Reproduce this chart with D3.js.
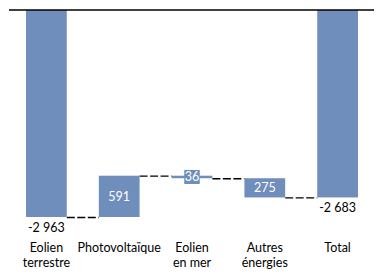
<!DOCTYPE html>
<html><head><meta charset="utf-8">
<script src="https://cdn.jsdelivr.net/npm/d3@7"></script>
<style>body{margin:0;background:#fff}svg{display:block}text{font-family:Lato,"Open Sans",sans-serif}</style>
</head><body><svg id="c" width="381" height="279"></svg>
<script>
const categories = [["Eolien","terrestre"],["Photovoltaïque"],["Eolien","en mer"],["Autres","énergies"],["Total"]];
const steps = [-2963, 591, -36, -275];
const total = -2683;

const W = 381, H = 279;
const svg = d3.select("#c");
const x = d3.scaleBand().domain(d3.range(categories.length)).range([10, 374]).paddingInner(0.44).paddingOuter(0.22);
const y = d3.scaleLinear().domain([0, -2963]).range([10, 217]);
const color = "#6f8ebb";
const fs = 12.5;
const loc = d3.formatLocale({decimal:",", thousands:" ", grouping:[3], currency:["",""], minus:"-"});
const fmt = loc.format(",d");

let run = 0;
const segs = steps.map((v,i)=>{ const s = {i, start:run, end:run+v, v}; run += v; return s; });
segs.push({i:steps.length, start:0, end:total, v:total, total:true});

const g = svg.append("g");
for (let k=0;k<segs.length-1;k++){
  const a = segs[k], b = segs[k+1];
  g.append("line").attr("x1", x(a.i)+x.bandwidth()).attr("x2", x(b.i))
    .attr("y1", y(a.end)+0.5).attr("y2", y(a.end)+0.5)
    .attr("stroke","#000").attr("stroke-width",1.3).attr("stroke-dasharray","8,2.5");
}
g.selectAll("rect.bar").data(segs).join("rect").attr("class","bar")
  .attr("x", d=>x(d.i)).attr("width", x.bandwidth())
  .attr("y", d=>Math.min(y(d.start),y(d.end))).attr("height", d=>Math.max(Math.abs(y(d.end)-y(d.start)),1))
  .attr("fill", color);

svg.append("line").attr("x1",9).attr("x2",374).attr("y1",y(0)).attr("y2",y(0)).attr("stroke","#000").attr("stroke-width",1.3);

segs.forEach((d,k)=>{
  const cx = x(d.i)+x.bandwidth()/2;
  if (k===0 || d.total){
    svg.append("text").attr("x",cx).attr("y",y(d.end)+10.5).attr("dy","0.35em")
      .attr("text-anchor","middle").attr("font-size",fs).attr("fill","#000").text(fmt(d.v));
  } else {
    const cy = (y(d.start)+y(d.end))/2;
    const t = svg.append("text").attr("x",cx).attr("y",cy).attr("dy","0.35em")
      .attr("text-anchor","middle").attr("font-size",fs).attr("fill","#fff").text(fmt(Math.abs(d.v)));
    const bb = t.node().getBBox();
    if (bb.height > Math.abs(y(d.end)-y(d.start))) {
      svg.insert("rect", () => t.node()).attr("x",bb.x-0.5).attr("y",cy-7).attr("width",bb.width+1).attr("height",14).attr("fill",color);
    }
  }
});

categories.forEach((lines,i)=>{
  const cx = x(i)+x.bandwidth()/2;
  const t = svg.append("text").attr("y",248)
    .attr("text-anchor","middle").attr("font-size",fs).attr("fill","#000");
  lines.forEach((s,j)=>t.append("tspan").attr("x", cx).attr("dy", j===0?"0.35em":"14.5px").text(s));
});
</script></body></html>
